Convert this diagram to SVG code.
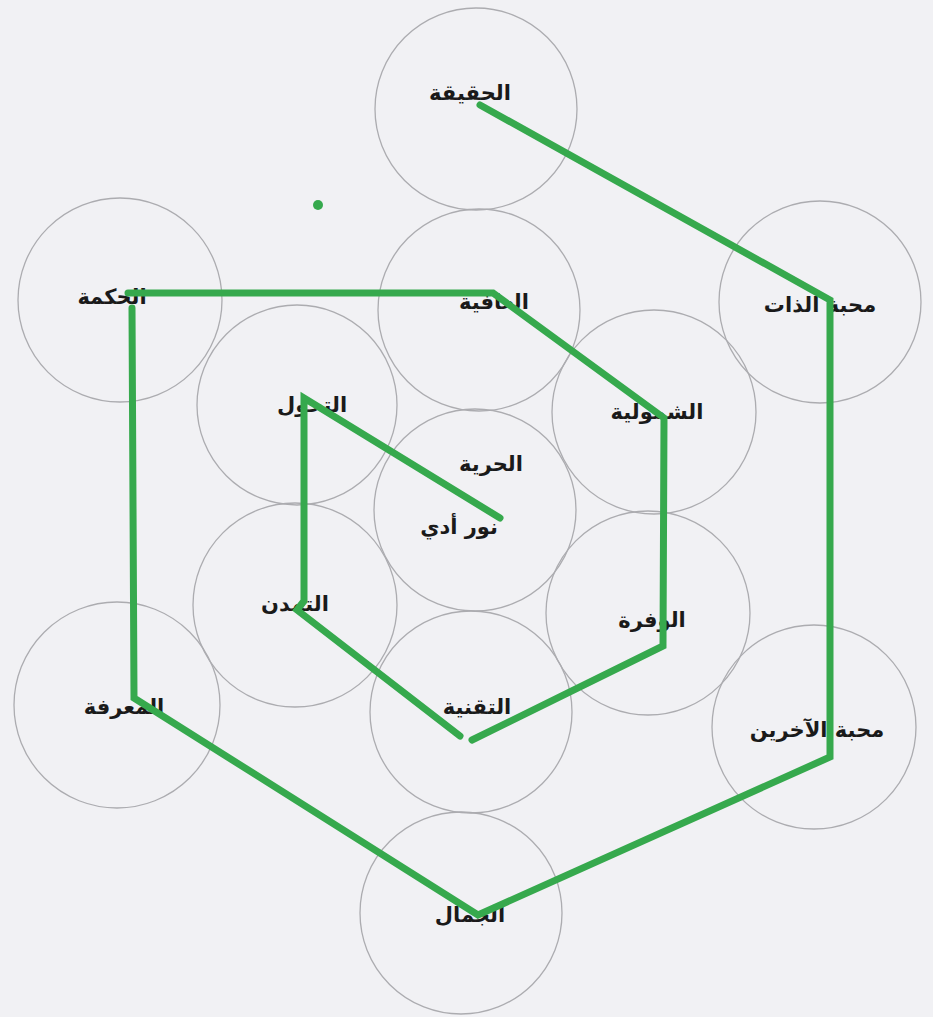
<svg xmlns="http://www.w3.org/2000/svg" width="933" height="1017" viewBox="0 0 933 1017">
<style>
.c{fill:none;stroke:#acacb0;stroke-width:1.3}
.t{font-family:"DejaVu Sans",sans-serif;font-weight:bold;font-size:21px;fill:#1a1a1a;text-anchor:middle;dominant-baseline:central}
.g{fill:none;stroke:#36a94d;stroke-width:7;stroke-linecap:round;stroke-linejoin:miter}
</style>
<rect width="933" height="1017" fill="#f1f1f4"/>
<g id="n-haqiqa"><circle class="c" cx="476" cy="109" r="101"/><text class="t" x="470" y="93">الحقيقة</text></g>
<g id="n-hikma"><circle class="c" cx="120" cy="300" r="102"/><text class="t" x="112" y="297">الحكمة</text></g>
<g id="n-afiya"><circle class="c" cx="479" cy="310" r="101"/><text class="t" x="494" y="302">العافية</text></g>
<g id="n-mahabbat-dhat"><circle class="c" cx="820" cy="302" r="101"/><text class="t" x="820" y="305">محبة الذات</text></g>
<g id="n-tahawwul"><circle class="c" cx="297" cy="405" r="100"/><text class="t" x="312" y="405">التحول</text></g>
<g id="n-shumuliya"><circle class="c" cx="654" cy="412" r="102"/><text class="t" x="657" y="412">الشمولية</text></g>
<g id="n-hurriya"><circle class="c" cx="475" cy="510" r="101"/><text class="t" x="491" y="464">الحرية</text><text class="t" x="459" y="527">نور أدي</text></g>
<g id="n-tamaddun"><circle class="c" cx="295" cy="605" r="102"/><text class="t" x="295" y="604">التمدن</text></g>
<g id="n-wafra"><circle class="c" cx="648" cy="613" r="102"/><text class="t" x="652" y="620">الوفرة</text></g>
<g id="n-marifa"><circle class="c" cx="117" cy="705" r="103"/><text class="t" x="124" y="707">المعرفة</text></g>
<g id="n-taqniya"><circle class="c" cx="471" cy="712" r="101"/><text class="t" x="477" y="707">التقنية</text></g>
<g id="n-mahabbat-akharin"><circle class="c" cx="814" cy="727" r="102"/><text class="t" x="817" y="730">محبة الآخرين</text></g>
<g id="n-jamal"><circle class="c" cx="461" cy="913" r="101"/><text class="t" x="470" y="915">الجمال</text></g>
<g id="connectors">
<polyline class="g" points="480,105 830,300 830,757 478,915 134,698 132,308"/>
<polyline class="g" points="128,293 493,293 664,418 663,646 472,740"/>
<polyline class="g" points="460,736 297,610 304,601 304,398 500,518"/>
<circle cx="318" cy="205" r="5" fill="#36a94d"/>
</g>
</svg>
